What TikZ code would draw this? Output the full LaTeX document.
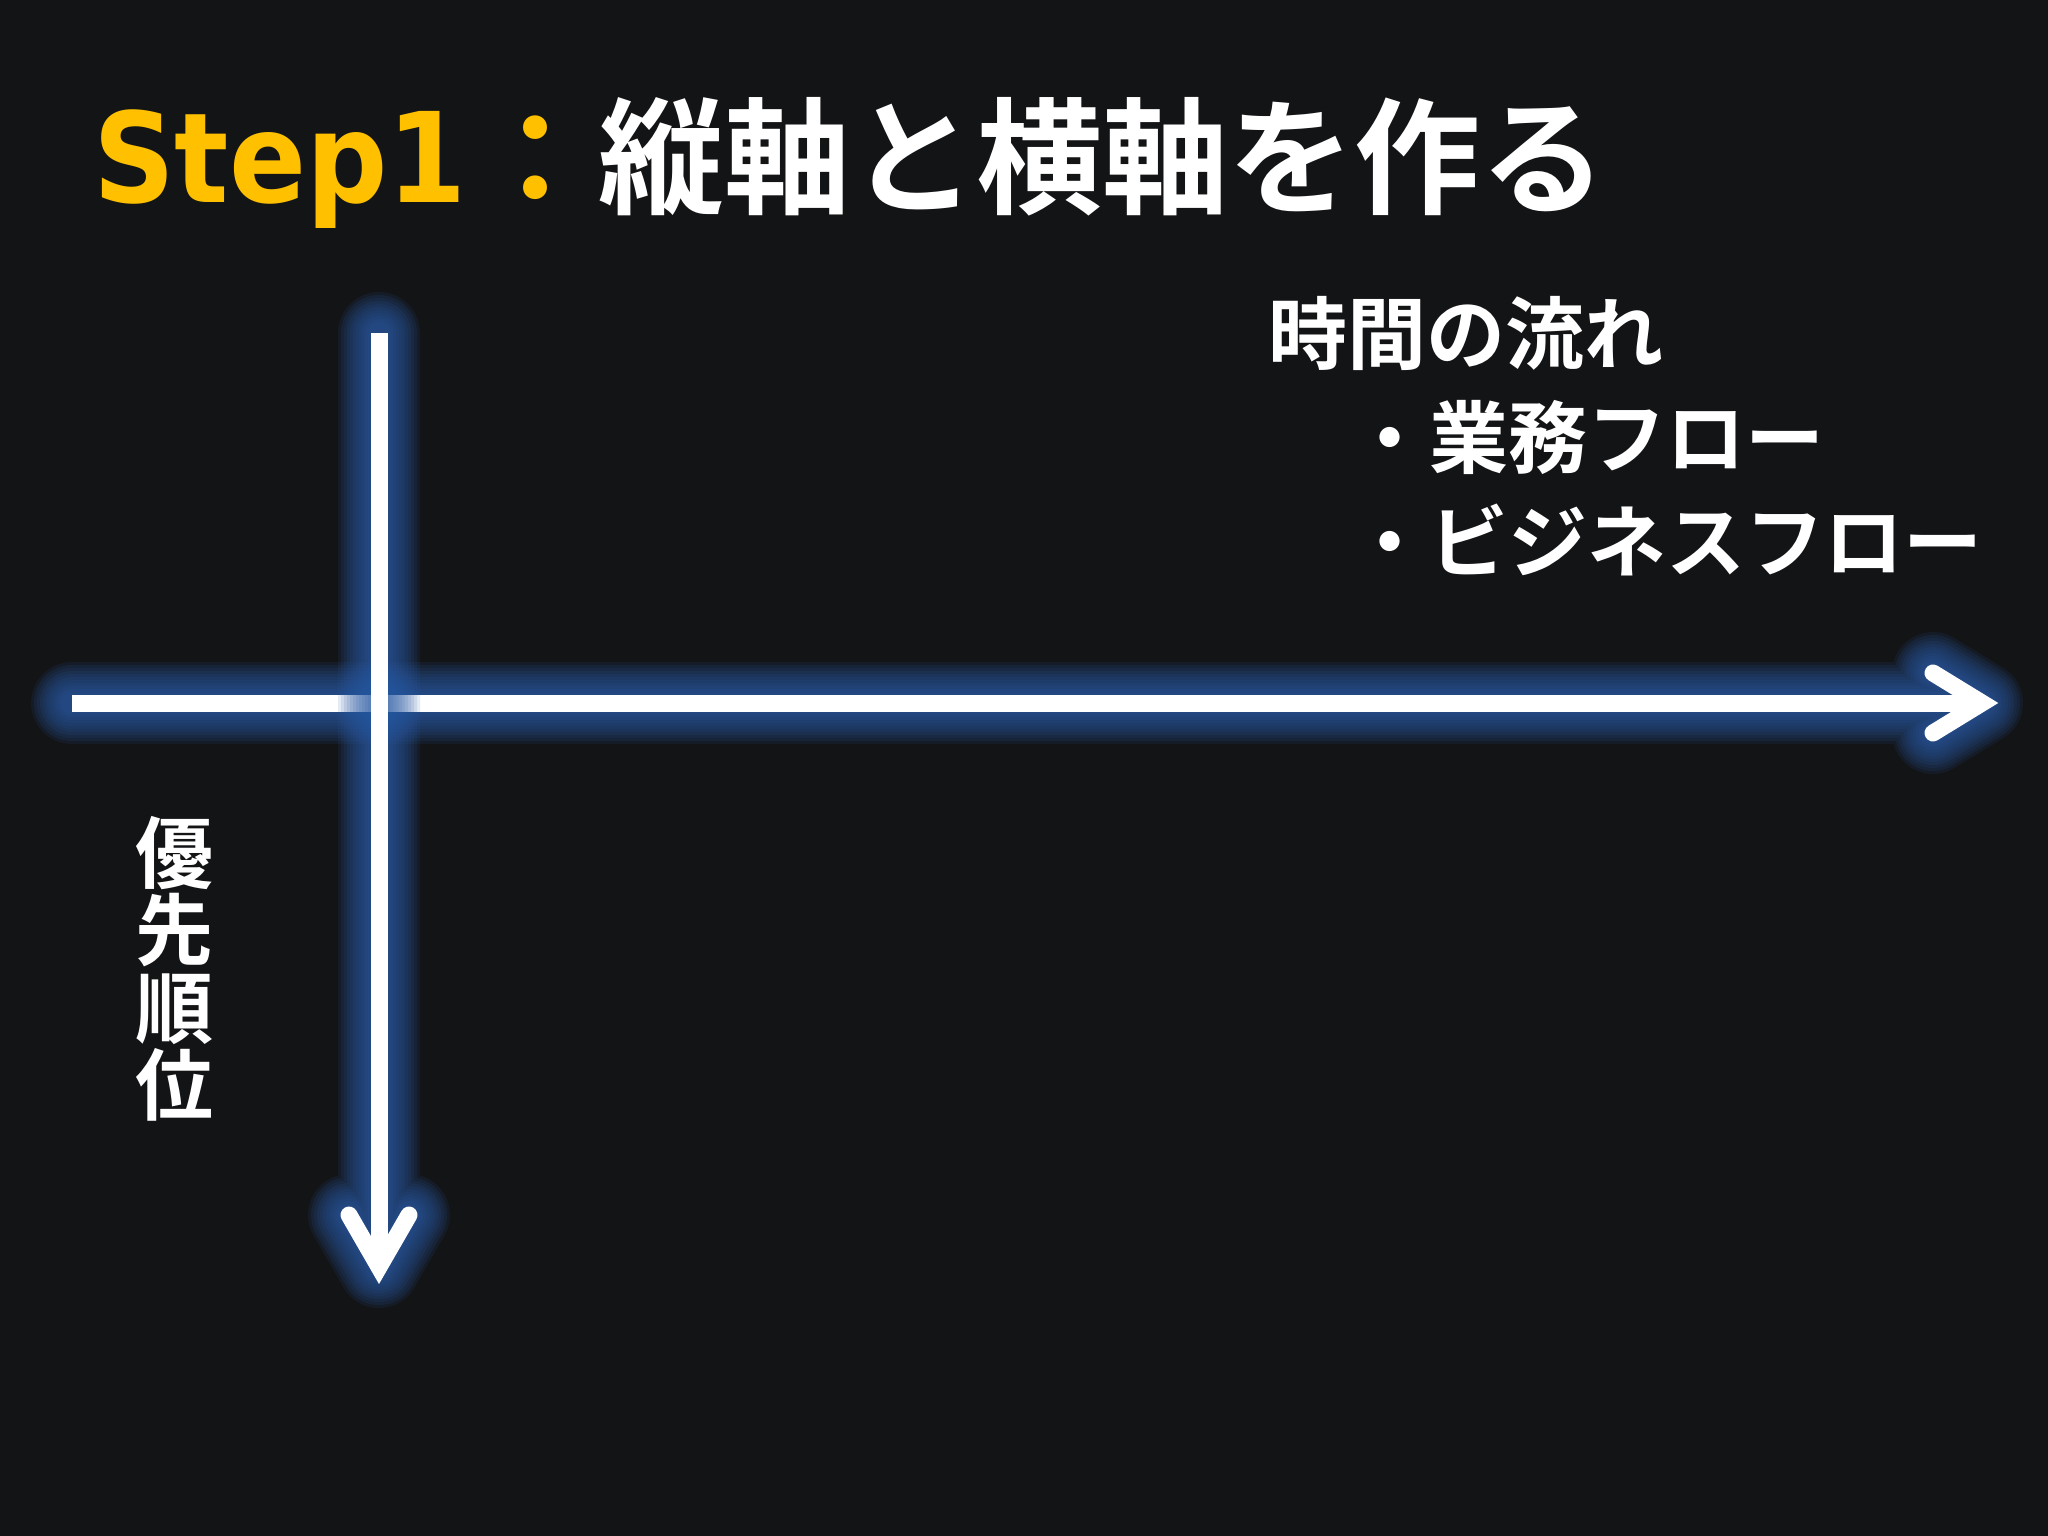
\documentclass[tikz,border=0pt]{standalone}
\usepackage{fontspec}
\newfontfamily\jp{Noto Sans CJK JP}[BoldFont={Noto Sans CJK JP Bold}]
\newfontfamily\lat{DejaVu Sans}[BoldFont={DejaVu Sans Bold}]
\definecolor{bgc}{HTML}{131416}
\definecolor{titleyellow}{HTML}{FFC000}
\definecolor{glowblue}{HTML}{2A5CA6}
\tikzset{
  txt/.style={inner sep=0pt, outer sep=0pt, text=white},
  wline/.style={draw=white, line width=17pt, line cap=butt},
  whead/.style={draw=white, line width=17pt, line cap=round, line join=miter},
  glowA/.style={draw=glowblue, draw opacity=0.12, line cap=round, line join=round},
}
\begin{document}
\begin{tikzpicture}[x=1pt,y=-1pt]
\useasboundingbox (0,0) rectangle (2048,1536);
\fill[bgc] (0,0) rectangle (2048,1536);

% title
\node[txt, anchor=base west, text=titleyellow, font=\lat\bfseries\fontsize{125}{125}\selectfont] (step) at (93,202) {\scalebox{0.91}[1]{Step1}};
\node[txt, anchor=base west, font=\jp\bfseries\fontsize{126}{126}\selectfont] (title) at (472,204) {\textcolor{titleyellow}{：}縦軸と横軸を作る};

% coordinates of axes
\coordinate (hstart) at (72,703);
\coordinate (htip) at (1982,703);
\coordinate (hw1) at (1933,673);
\coordinate (hw2) at (1933,733);
\coordinate (vstart) at (379,333);
\coordinate (vtip) at (379,1267);
\coordinate (vw1) at (349,1215);
\coordinate (vw2) at (409,1215);

% horizontal axis
\foreach \w in {82,76,70,64,58,52,46,40,34,28,22}
  \draw[glowA, line width=\w pt] (hstart) -- (htip) (hw1) -- (htip) -- (hw2);
\draw[wline] (hstart) -- (htip);
\draw[whead] (hw1) -- (htip) -- (hw2);

% vertical axis
\foreach \w in {82,76,70,64,58,52,46,40,34,28,22}
  \draw[glowA, line width=\w pt] (vstart) -- (vtip) (vw1) -- (vtip) -- (vw2);
\draw[wline] (vstart) -- (vtip);
\draw[whead] (vw1) -- (vtip) -- (vw2);

% labels
\begin{scope}[every node/.style={txt, anchor=base west, font=\jp\bfseries\fontsize{79}{79}\selectfont}]
\node (flow) at (1268,363) {時間の流れ};
\node (gyomu) at (1350,467) {・業務フロー};
\node (biz) at (1350,571) {・ビジネスフロー};
\end{scope}

\begin{scope}[every node/.style={txt, anchor=base, font=\jp\bfseries\fontsize{78}{78}\selectfont}]
\node (v1) at (174.5,882) {優};
\node (v2) at (174.5,959.5) {先};
\node (v3) at (174.5,1037) {順};
\node (v4) at (174.5,1114.5) {位};
\end{scope}
\end{tikzpicture}
\end{document}
